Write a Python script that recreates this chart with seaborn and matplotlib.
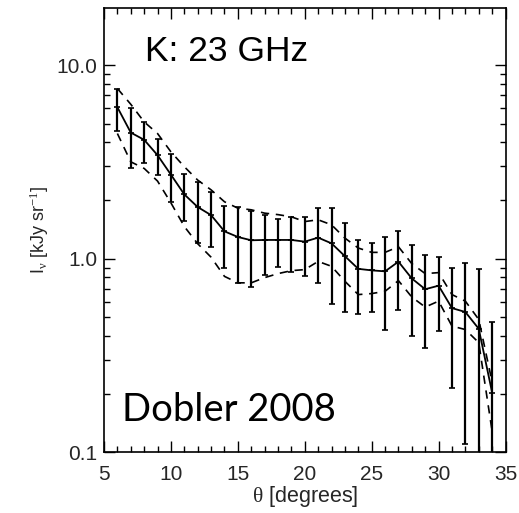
import numpy as np
import pandas as pd
import matplotlib
matplotlib.use("Agg")
import matplotlib.pyplot as plt
import matplotlib.ticker as mticker
import seaborn as sns

theta = [6, 7, 8, 9, 10, 11, 12, 13, 14, 15, 16, 17, 18, 19, 20,
         21, 22, 23, 24, 25, 26, 27, 28, 29, 30, 31, 32, 33, 34]
intensity = [6.07, 4.49, 4.12, 3.43, 2.72, 2.15, 1.85, 1.68, 1.385, 1.295, 1.245, 1.25, 1.25, 1.25, 1.225,
             1.285, 1.20, 1.03, 0.886, 0.87, 0.86, 0.965, 0.79, 0.695, 0.725, 0.555, 0.530, 0.434, 0.203]
sigma = [1.51, 1.54, 0.98, 0.72, 0.75, 0.58, 0.64, 0.53, 0.49, 0.55, 0.53, 0.43, 0.345, 0.40, 0.414,
         0.54, 0.62, 0.50, 0.37, 0.34, 0.43, 0.42, 0.39, 0.35, 0.30, 0.34, 0.42, 0.45, 0.266]
upper_dashed = [7.59, 6.29, 5.10, 4.44, 3.57, 2.99, 2.55, 2.27, 1.97, 1.825, 1.79, 1.72, 1.69, 1.646, 1.556,
                1.589, 1.497, 1.278, 1.135, 1.078, 1.078, 1.153, 0.942, 0.837, 0.847, 0.652, 0.603, 0.485, 0.23]
lower_dashed = [4.44, 3.17, 2.93, 2.52, 1.944, 1.467, 1.195, 1.018, 0.81, 0.75, 0.75, 0.798, 0.837, 0.867, 0.878,
                0.968, 0.913, 0.764, 0.652, 0.66, 0.678, 0.77, 0.633, 0.562, 0.603, 0.448, 0.43, 0.368, 0.128]

df = pd.DataFrame({"theta": theta, "I": intensity, "sig": sigma,
                   "up": upper_dashed, "lo": lower_dashed})

sns.set_style("ticks")
plt.rcParams["font.family"] = ["Liberation Sans", "DejaVu Sans"]
plt.rcParams["mathtext.fontset"] = "custom"
plt.rcParams["mathtext.rm"] = "Liberation Serif"
plt.rcParams["mathtext.it"] = "Liberation Serif:italic"

fig = plt.figure(figsize=(5.19, 5.13), dpi=100)
ax = fig.add_axes([0.2004, 0.1189, 0.974 - 0.2004, 0.9844 - 0.1189])

ax.set_yscale("log", nonpositive="clip")

lower_err = np.minimum(df["sig"].values, df["I"].values - 1e-4)
ax.errorbar(df["theta"], df["I"], yerr=[lower_err, df["sig"].values],
            fmt="none", ecolor="black", elinewidth=1.6, capsize=2.5, capthick=1.2, zorder=3)

sns.lineplot(data=df, x="theta", y="up", ax=ax, color="black", linewidth=1.2,
             linestyle=(0, (5, 4)), zorder=2)
sns.lineplot(data=df, x="theta", y="lo", ax=ax, color="black", linewidth=1.2,
             linestyle=(0, (5, 4)), zorder=2)
sns.lineplot(data=df, x="theta", y="I", ax=ax, color="black", linewidth=1.3,
             linestyle="-", zorder=4)
ax.plot(df["theta"], df["I"], linestyle="none", marker="+", markersize=5,
        markeredgewidth=1.2, color="black", zorder=5)

ax.set_xlim(5, 35)
ax.set_ylim(0.1, 19.8)
ax.set_xticks([5, 10, 15, 20, 25, 30, 35])
ax.xaxis.set_minor_locator(mticker.MultipleLocator(1))
ax.set_yticks([0.1, 1.0, 10.0])
ax.set_yticklabels(["0.1", "1.0", "10.0"])
ax.yaxis.set_minor_locator(mticker.LogLocator(base=10, subs=np.arange(2, 10)))
ax.yaxis.set_minor_formatter(mticker.NullFormatter())

ax.tick_params(which="both", direction="in", top=True, right=True, width=1.0,
               labelsize=15, color="black")
ax.tick_params(which="major", length=8)
ax.tick_params(which="minor", length=4)
ax.tick_params(axis="x", pad=9)
ax.tick_params(axis="y", pad=5)
for s in ax.spines.values():
    s.set_linewidth(1.2)
    s.set_color("black")

ax.set_xlabel(r"$\mathrm{\theta}$ [degrees]", fontsize=15.5, labelpad=0)
ax.set_ylabel(r"I$_\mathrm{\nu}$ [kJy sr$^{\mathrm{-1}}$]", fontsize=13, labelpad=4)

ax.text(0.102, 0.903, "K: 23 GHz", transform=ax.transAxes, fontsize=25.5,
        ha="left", va="center", color="black")
ax.text(0.045, 0.095, "Dobler 2008", transform=ax.transAxes, fontsize=27.5,
        ha="left", va="center", color="black", family=["Lato", "DejaVu Sans"])

fig.savefig("out.png", dpi=100)
